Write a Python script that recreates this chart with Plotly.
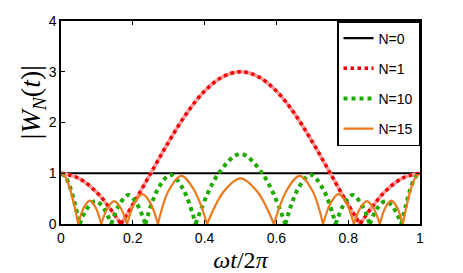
import plotly.graph_objects as go

# ---- data ----
# N=0 : constant line
n0_x = [0, 1]
n0_y = [1, 1]

# N=1 : three smooth pieces separated by cusps (None = break)
n1_x = [0, 0.05, 0.10, 0.135, 0.167, None,
        0.167, 0.20, 0.25, 0.30, 0.35, 0.40, 0.45, 0.50, 0.55, 0.60, 0.65, 0.70, 0.75, 0.80, 0.833, None,
        0.833, 0.865, 0.90, 0.95, 1.0]
n1_y = [1, 0.90, 0.62, 0.32, 0, None,
        0, 0.38, 1.00, 1.62, 2.18, 2.62, 2.90, 3.00, 2.90, 2.62, 2.18, 1.62, 1.00, 0.38, 0, None,
        0, 0.32, 0.62, 0.90, 1]

# N=10 : arches between zeros
n10_x = [0, 0.013, 0.026, 0.039, 0.052, None,
         0.052, 0.074, 0.096, 0.118, 0.140, None,
         0.140, 0.164, 0.188, 0.211, 0.235, None,
         0.235, 0.270, 0.305, 0.340, 0.375, None,
         0.375, 0.4375, 0.500, 0.5625, 0.625, None,
         0.625, 0.660, 0.695, 0.730, 0.765, None,
         0.765, 0.789, 0.812, 0.836, 0.860, None,
         0.860, 0.882, 0.904, 0.926, 0.948, None,
         0.948, 0.961, 0.974, 0.987, 1.0]
n10_y = [1, 0.92, 0.71, 0.38, 0, None,
         0, 0.32, 0.45, 0.32, 0, None,
         0, 0.40, 0.57, 0.40, 0, None,
         0, 0.69, 0.97, 0.69, 0, None,
         0, 0.98, 1.38, 0.98, 0, None,
         0, 0.69, 0.97, 0.69, 0, None,
         0, 0.40, 0.57, 0.40, 0, None,
         0, 0.32, 0.45, 0.32, 0, None,
         0, 0.38, 0.71, 0.92, 1]

# N=15 : arches between zeros
n15_x = [0, 0.012, 0.024, 0.036, 0.048, None,
         0.048, 0.064, 0.080, 0.096, 0.112, None,
         0.112, 0.130, 0.148, 0.166, 0.184, None,
         0.184, 0.2055, 0.227, 0.2485, 0.270, None,
         0.270, 0.300, 0.335, 0.370, 0.407, None,
         0.407, 0.4535, 0.500, 0.5465, 0.593, None,
         0.593, 0.630, 0.665, 0.700, 0.730, None,
         0.730, 0.7515, 0.773, 0.7945, 0.816, None,
         0.816, 0.834, 0.852, 0.870, 0.888, None,
         0.888, 0.904, 0.920, 0.936, 0.952, None,
         0.952, 0.964, 0.976, 0.988, 1.0]
n15_y = [1, 0.93, 0.72, 0.40, 0, None,
         0, 0.33, 0.46, 0.33, 0, None,
         0, 0.32, 0.45, 0.32, 0, None,
         0, 0.42, 0.59, 0.42, 0, None,
         0, 0.66, 0.95, 0.68, 0, None,
         0, 0.64, 0.90, 0.64, 0, None,
         0, 0.68, 0.95, 0.66, 0, None,
         0, 0.42, 0.59, 0.42, 0, None,
         0, 0.32, 0.45, 0.32, 0, None,
         0, 0.33, 0.46, 0.33, 0, None,
         0, 0.40, 0.72, 0.93, 1]

x_ticks = [0, 0.2, 0.4, 0.6, 0.8, 1]
x_tick_labels = ["0", "0.2", "0.4", "0.6", "0.8", "1"]
y_ticks = [0, 1, 2, 3, 4]
y_tick_labels = ["0", "1", "2", "3", "4"]

fig = go.Figure()

fig.add_trace(go.Scatter(x=n0_x, y=n0_y, mode="lines", name="N=0",
                         line=dict(color="black", width=2.2), legendgroup="g0"))
fig.add_trace(go.Scatter(x=n1_x, y=n1_y, mode="lines", name="N=1", showlegend=False,
                         line=dict(color="#ff9d9d", width=3.5, shape="spline", smoothing=1),
                         legendgroup="g1", hoverinfo="skip"))
fig.add_trace(go.Scatter(x=n1_x, y=n1_y, mode="lines", name="N=1",
                         line=dict(color="#f00000", width=3.5, dash="dot", shape="spline", smoothing=1),
                         legendgroup="g1"))
fig.add_trace(go.Scatter(x=n10_x, y=n10_y, mode="lines", name="N=10",
                         line=dict(color="#1faa00", width=4, dash="dot", shape="spline", smoothing=1),
                         legendgroup="g10"))
fig.add_trace(go.Scatter(x=n15_x, y=n15_y, mode="lines", name="N=15",
                         line=dict(color="#ea7a1c", width=2.2, shape="spline", smoothing=1),
                         legendgroup="g15"))

axis_common = dict(showline=True, linecolor="black", linewidth=1.5, mirror="ticks",
                   ticks="inside", ticklen=4, tickcolor="black", tickwidth=1,
                   showgrid=False, zeroline=False, automargin=False,
                   tickfont=dict(family="Liberation Sans, Arial", size=14, color="black"))

fig.update_layout(
    width=463, height=273,
    margin=dict(l=61, r=43, t=21, b=49),
    paper_bgcolor="white", plot_bgcolor="white",
    showlegend=True,
    legend=dict(x=1, xanchor="right", y=1, yanchor="top",
                bgcolor="white", bordercolor="black", borderwidth=1.5,
                font=dict(family="Liberation Sans, Arial", size=14, color="black"),
                traceorder="grouped", tracegroupgap=9, itemwidth=30),
    xaxis=dict(range=[0, 1], tickvals=x_ticks, ticktext=x_tick_labels,
               title=dict(text="<i>ωt</i>/2<i>π</i>", standoff=7,
                          font=dict(family="Liberation Serif, DejaVu Serif", size=24, color="black")),
               **axis_common),
    yaxis=dict(range=[0, 4], tickvals=y_ticks, ticktext=y_tick_labels, **axis_common),
    annotations=[dict(text="|<i>W</i><sub><i>N</i></sub>(<i>t</i>)|", textangle=-90,
                      xref="paper", yref="paper", x=0, y=0.6, xanchor="center", yanchor="middle",
                      xshift=-29, showarrow=False,
                      font=dict(family="Liberation Serif, DejaVu Serif", size=28, color="black"))],
)

fig.write_html("out.html", config={"displayModeBar": False},
               post_script="document.body.style.margin='0';")
